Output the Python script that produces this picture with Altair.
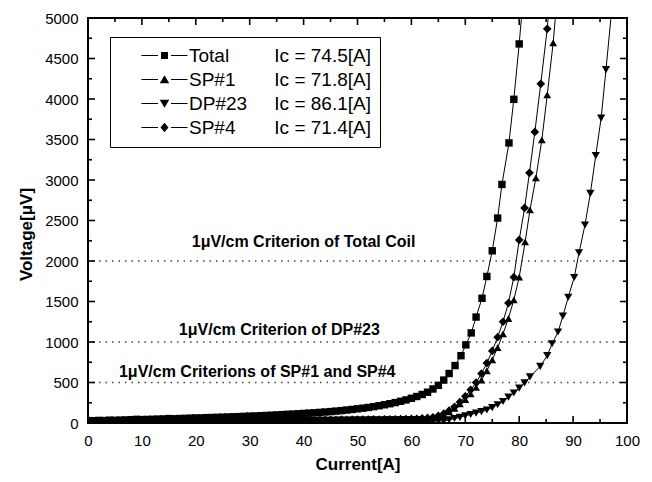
import altair as alt
import pandas as pd

FONT = "Liberation Sans"

names = ["Total", "SP#1", "DP#23", "SP#4"]
ic_labels = ["Ic = 74.5[A]", "Ic = 71.8[A]", "Ic = 86.1[A]", "Ic = 71.4[A]"]

# ---- Total coil ----
total_current = list(range(0, 66)) + [66.0, 67.0, 68.1, 69.2, 70.1, 71.1, 72.0, 73.1, 74.0, 75.0,
                                      76.0, 76.8, 78.1, 79.0, 80.0, 81.0]
total_voltage = [30, 28, 32, 30, 35, 33, 36, 38, 40, 45,
                 42, 44, 46, 48, 50, 55, 52, 55, 57, 60,
                 62, 63, 66, 68, 70, 72, 74, 77, 79, 82,
                 85, 87, 90, 93, 96, 100, 103, 107, 110, 114,
                 118, 122, 126, 131, 136, 141, 147, 153, 160, 167,
                 175, 183, 192, 202, 213, 225, 238, 252, 268, 285,
                 305, 327, 352, 380, 420, 465,
                 530, 611, 709, 831, 965, 1112, 1308, 1540, 1809, 2126,
                 2530, 2945, 3458, 3996, 4680, 5450]

# ---- SP#1 ----
sp1_current = list(range(0, 81)) + [81.1, 82.0, 83.1, 84.2, 85.2, 86.3, 87.2]
sp1_voltage = [12, 10, 14, 12, 15, 13, 14, 16, 15, 17,
               16, 18, 17, 19, 18, 20, 19, 21, 20, 22,
               21, 23, 22, 24, 23, 25, 24, 26, 25, 27,
               26, 28, 27, 29, 28, 30, 29, 31, 30, 32,
               31, 33, 32, 34, 33, 35, 34, 36, 35, 37,
               36, 38, 37, 39, 38, 40, 39, 41, 42, 43,
               44, 46, 50, 55, 62, 75, 100, 138, 182, 235,
               290, 360, 440, 530, 645, 780, 930, 1100, 1290, 1520,
               1800, 2235, 2631, 3026, 3495, 4051, 4693, 5400]

# ---- DP#23 ----
dp_current = list(range(0, 83)) + [83.9, 85.2, 86.1, 87.2, 88.1, 89.1, 90.2, 91.1, 92.2, 93.2,
                                   94.2, 95.2, 96.1, 97.6]
dp_voltage = [10, 12, 11, 13, 12, 14, 13, 15, 14, 16,
              15, 17, 16, 18, 17, 19, 18, 20, 19, 21,
              20, 22, 21, 23, 22, 24, 23, 25, 24, 26,
              25, 27, 26, 28, 27, 29, 28, 30, 29, 31,
              30, 32, 31, 33, 32, 34, 33, 35, 34, 36,
              35, 37, 36, 38, 37, 39, 38, 40, 39, 41,
              40, 38, 36, 34, 30, 26, 25, 40, 55, 70,
              90, 105, 122, 140, 160, 190, 225, 265, 320, 370,
              430, 495, 570, 700, 831, 978, 1124, 1320, 1552, 1796,
              2102, 2444, 2835, 3300, 3764, 4363, 5400]

# ---- SP#4 ----
sp4_current = list(range(0, 80)) + [80.0, 81.0, 81.9, 82.9, 84.0, 85.2, 86.0]
sp4_voltage = [18, 16, 19, 17, 20, 18, 21, 19, 22, 20,
               21, 23, 22, 24, 23, 25, 24, 26, 25, 27,
               26, 28, 27, 29, 28, 30, 29, 31, 30, 32,
               31, 33, 32, 34, 33, 35, 34, 36, 35, 37,
               36, 38, 37, 39, 38, 40, 39, 41, 40, 42,
               41, 43, 42, 44, 43, 45, 44, 46, 47, 48,
               50, 53, 58, 63, 70, 88, 115, 152, 200, 258,
               330, 410, 500, 610, 740, 890, 1060, 1250, 1480, 1800,
               2260, 2655, 3088, 3594, 4187, 4866, 5500]

# ---- criterion lines ----
crit_values = [2000, 1000, 500]
crit_texts = ["1\u03bcV/cm Criterion of Total Coil",
              "1\u03bcV/cm Criterion of DP#23",
              "1\u03bcV/cm Criterions of SP#1 and SP#4"]
crit_text_x = [40.0, 35.5, 31.4]
crit_text_y = [2235, 1149, 630]

x_major = [0, 10, 20, 30, 40, 50, 60, 70, 80, 90, 100]
x_minor = [5, 15, 25, 35, 45, 55, 65, 75, 85, 95]
y_major = [0, 500, 1000, 1500, 2000, 2500, 3000, 3500, 4000, 4500, 5000]
y_minor = [250, 750, 1250, 1750, 2250, 2750, 3250, 3750, 4250, 4750]

shapes = ["square", "triangle-up", "triangle-down", "diamond"]
marker_sizes = [55, 75, 75, 85]
stub = "M-4.6,-0.12H-1.3V0.12H-4.6Z M1.3,-0.12H4.6V0.12H1.3Z "
legend_paths = [
    stub + "M-0.7,-0.7H0.7V0.7H-0.7Z",
    stub + "M0,-0.85L0.95,0.75L-0.95,0.75Z",
    stub + "M0,0.85L0.95,-0.75L-0.95,-0.75Z",
    stub + "M0,-0.95L0.8,0L0,0.95L-0.8,0Z",
]

W, H = 539, 405
MAJ, MIN = 7, 4

rows = []
for nm, ic, cur, vol in [(names[0], ic_labels[0], total_current, total_voltage),
                         (names[1], ic_labels[1], sp1_current, sp1_voltage),
                         (names[2], ic_labels[2], dp_current, dp_voltage),
                         (names[3], ic_labels[3], sp4_current, sp4_voltage)]:
    for c, v in zip(cur, vol):
        rows.append({"series": nm, "ic": ic, "current": c, "voltage": v})
df = pd.DataFrame(rows)

crit_df = pd.DataFrame({"value": crit_values})
label_df = pd.DataFrame({"text": crit_texts, "x": crit_text_x, "y": crit_text_y})

x_scale = alt.Scale(domain=[0, 100], nice=False, zero=False)
y_scale = alt.Scale(domain=[0, 5000], nice=False, zero=False)

label_kw = dict(labelFont=FONT, labelFontSize=15, labelColor="black",
                labelFlush=False, labelOverlap=False, labelPadding=10, format="d",
                titleFont=FONT, titleFontSize=17, titleFontWeight="bold",
                titleColor="black", ticks=False, domain=False, grid=False)

lines = alt.Chart(df).mark_line(color="black", strokeWidth=1, clip=True).encode(
    x=alt.X("current:Q", scale=x_scale,
            axis=alt.Axis(orient="bottom", values=x_major, title="Current[A]",
                          titlePadding=8, **label_kw)),
    y=alt.Y("voltage:Q", scale=y_scale,
            axis=alt.Axis(orient="left", values=y_major, title="Voltage[\u03bcV]",
                          titlePadding=9, titleY=216, **label_kw)),
    detail="series:N",
)

points = alt.Chart(df).mark_point(filled=True, color="black", opacity=1, clip=True).encode(
    x=alt.X("current:Q", scale=x_scale, axis=None),
    y=alt.Y("voltage:Q", scale=y_scale, axis=None),
    shape=alt.Shape("series:N", scale=alt.Scale(domain=names, range=shapes), legend=None),
    size=alt.Size("series:N", scale=alt.Scale(domain=names, range=marker_sizes), legend=None),
)

rules = alt.Chart(crit_df).mark_rule(color="#444444", strokeWidth=1.3, strokeDash=[1.5, 5]).encode(
    y=alt.Y("value:Q", scale=y_scale, axis=None),
)

texts = alt.Chart(label_df).mark_text(font=FONT, fontSize=16, fontWeight="bold",
                                      color="black", align="center", baseline="middle").encode(
    x=alt.X("x:Q", scale=x_scale, axis=None),
    y=alt.Y("y:Q", scale=y_scale, axis=None),
    text="text:N",
)


def xticks(values, y0, y1):
    return alt.Chart(pd.DataFrame({"t": values})).mark_rule(
        color="black", strokeWidth=1.6).encode(
        x=alt.X("t:Q", scale=x_scale, axis=None), y=alt.value(y0), y2=alt.value(y1))


def yticks(values, x0, x1):
    return alt.Chart(pd.DataFrame({"t": values})).mark_rule(
        color="black", strokeWidth=1.6).encode(
        y=alt.Y("t:Q", scale=y_scale, axis=None), x=alt.value(x0), x2=alt.value(x1))


tick_layers = [
    xticks(x_major, H, H - MAJ), xticks(x_minor, H, H - MIN),
    xticks(x_major, 0, MAJ), xticks(x_minor, 0, MIN),
    yticks(y_major, 0, MAJ), yticks(y_minor, 0, MIN),
    yticks(y_major, W, W - MAJ), yticks(y_minor, W, W - MIN),
]

legend_layer = alt.Chart(df).transform_filter(alt.datum.voltage > 5000).mark_point(
    filled=True, color="black", clip=True).encode(
    x=alt.X("current:Q", scale=x_scale, axis=None),
    y=alt.Y("voltage:Q", scale=y_scale, axis=None),
    shape=alt.Shape("series:N", scale=alt.Scale(domain=names, range=legend_paths),
                    legend=alt.Legend(title=None, orient="none", legendX=22, legendY=19,
                                      padding=9, symbolSize=100, symbolOffset=36,
                                      labelOffset=15, labelFont=FONT, labelFontSize=19,
                                      labelColor="black", rowPadding=4,
                                      symbolFillColor="black", symbolStrokeColor="black",
                                      symbolStrokeWidth=0, symbolOpacity=1)),
    color=alt.Color("ic:N", scale=alt.Scale(domain=ic_labels, range=["black"] * 4),
                    legend=alt.Legend(title=None, orient="none", legendX=22, legendY=19,
                                      padding=9, symbolSize=0, symbolOpacity=0,
                                      labelOffset=233, labelAlign="right",
                                      labelFont=FONT, labelFontSize=19,
                                      labelColor="black", rowPadding=4,
                                      strokeColor="black")),
)

chart = alt.layer(lines, rules, points, texts, *tick_layers, legend_layer).resolve_scale(
    shape="independent", size="independent"
).resolve_axis(
    x="independent", y="independent"
).properties(
    width=W, height=H,
    autosize=alt.AutoSizeParams(type="none"),
    padding={"left": 80, "top": 10, "right": 17, "bottom": 58},
    background="white",
).configure_view(stroke="black", strokeWidth=2)

chart.save("out.html", embed_options={"renderer": "svg", "actions": False})
